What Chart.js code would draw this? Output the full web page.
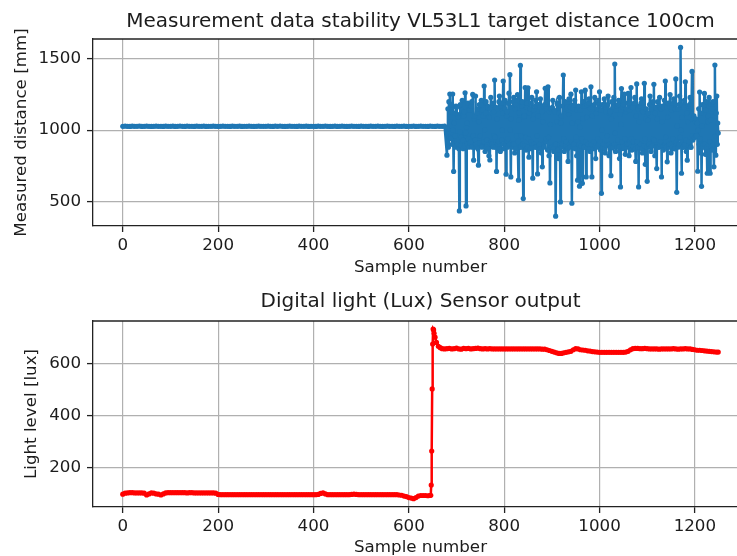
<!DOCTYPE html>
<html>
<head>
<meta charset="utf-8">
<script src="https://cdn.jsdelivr.net/npm/chart.js@4.4.0/dist/chart.umd.min.js"></script>
<style>
  html, body { margin: 0; padding: 0; background: #fff; overflow: hidden; }
  body { width: 737px; height: 556px; position: relative; }
  canvas { position: absolute; left: 0; }
  #distChart { top: 0; }
  #luxChart { top: 280px; }
</style>
</head>
<body>
<canvas id="distChart" width="760" height="280"></canvas>
<canvas id="luxChart" width="760" height="280"></canvas>
<script>
// sample numbers helper (indices only, not values)
function range(a, b, step) {
    const out = [];
    for (let v = a; v <= b; v += step) out.push(v);
    return out;
}

// ---- VL53L1 distance [mm] ----
const distFlatSamples = range(0, 675, 5);
const distFlatValues = [
    1027,1028,1027,1026,1028,1027,1027,1029,1026,1027,
    1028,1027,1026,1027,1028,1027,1027,1026,1028,1027,
    1027,1028,1026,1027,1029,1027,1026,1028,1027,1027,
    1026,1028,1027,1027,1028,1026,1027,1027,1028,1027,
    1026,1027,1028,1027,1027,1026,1028,1027,1027,1028,
    1026,1027,1027,1028,1027,1026,1027,1028,1027,1027,
    1027,1028,1027,1026,1028,1027,1029,1027,1026,1027,
    1028,1027,1027,1026,1028,1027,1027,1028,1026,1027,
    1027,1026,1028,1027,1027,1028,1027,1026,1027,1028,
    1026,1027,1028,1027,1026,1027,1028,1027,1027,1026,
    1028,1027,1027,1026,1028,1027,1027,1028,1027,1026,
    1027,1028,1027,1027,1026,1028,1027,1027,1028,1026,
    1027,1027,1028,1026,1027,1028,1027,1027,1026,1028,
    1027,1026,1028,1027,1027,1028
];
const distNoisySamples = range(680, 1249, 1);
const distNoisyValues = [
    824,1010,1150,880,1200,950,1254,1060,940,1130,1180,900,1254,1000,710,1050,1120,960,880,1170,
    1160,920,900,1110,1090,870,432,990,1180,890,950,1140,1210,930,870,1100,1130,890,1263,980,
    467,1020,1050,900,1190,940,880,1150,1140,910,920,1170,1200,880,1251,960,789,1080,1100,930,
    1240,900,880,1120,1150,870,754,1060,1180,910,960,1180,1210,890,880,1140,1100,920,1310,1000,
    850,1120,1200,880,930,1170,1160,870,820,1090,790,1150,1230,920,900,1180,1190,880,960,1130,
    1352,950,880,1160,710,1080,1150,900,920,1200,1240,870,850,1170,1190,930,1000,1120,1345,900,
    870,1150,1210,890,690,1100,1130,880,940,1190,1260,900,1390,1000,671,1080,1160,880,900,1200,
    1230,900,840,1150,1180,870,960,1210,1250,920,648,1070,1120,880,1455,960,880,1170,1200,900,
    519,1090,1100,890,1300,950,860,1160,1190,880,1298,940,810,1120,1150,870,920,1190,1230,900,
    662,1080,1140,900,880,1170,1210,880,1270,960,692,1100,1180,890,900,1160,1220,870,840,1130,
    742,1060,1170,900,880,1180,1294,920,940,1150,1200,860,1305,950,820,1130,629,1040,1150,880,
    880,1160,1210,870,850,1140,1130,900,395,900,1060,1190,1180,860,800,1120,1230,900,495,1050,
    1100,880,900,1170,1387,940,850,1150,1200,890,920,1190,1160,870,780,1110,1220,900,880,1160,
    1253,920,486,1050,1150,880,900,1180,1210,870,1282,950,820,1140,648,1060,1170,900,606,1020,
    1140,890,1270,940,626,1080,1200,880,880,1170,1281,920,671,1090,1180,880,900,1190,1220,870,
    850,1150,1305,900,671,1100,1160,870,920,1180,1230,890,800,1120,1150,880,940,1190,1210,900,
    1270,920,860,1140,556,1000,1180,880,900,1170,1220,870,840,1130,1160,890,960,1180,1240,900,
    820,1120,1130,880,680,1080,1200,890,880,1160,1230,900,1465,980,850,1140,1170,880,930,1180,
    1210,880,800,1110,601,1040,1293,920,880,1160,1180,870,1253,940,830,1130,1150,880,900,1190,
    1258,900,820,1140,1190,880,1300,940,860,1160,1160,880,920,1190,1230,870,780,1100,1325,920,
    880,1150,601,1060,1170,880,900,1190,1220,870,840,1130,1190,890,1329,940,760,1080,1150,880,
    640,1070,1120,890,900,1180,1240,880,850,1150,1180,890,940,1200,1322,930,820,1120,1160,880,
    730,1080,1200,880,880,1170,1230,900,920,1150,671,1060,1170,880,860,1160,1210,890,1345,950,
    880,1160,777,1090,1190,880,900,1170,1250,900,840,1140,1160,880,940,1190,1220,870,870,1150,
    1360,920,563,1030,1150,880,900,1180,1240,950,1582,1000,697,1090,1180,880,880,1160,1210,900,
    1340,930,850,1120,789,1060,1170,890,920,1180,1230,880,880,1150,1413,960,930,1080,1100,950,
    950,1060,1080,960,960,1050,711,1000,1150,900,1268,940,840,1120,605,1030,1180,880,900,1170,
    1258,900,830,1140,1200,880,697,1060,1100,900,1230,920,697,1070,1180,880,860,1150,1200,900,
    742,1100,1458,960,824,1120,1240,900,1050,980
];

// ---- light sensor [lux] ----
const luxSamples = [].concat(
    range(0, 640, 5),
    [644,646,647,648,649,650,651,652,653,655,658,662,666,670],
    range(675, 1245, 5),
    [1249]
);
const luxValues = [
    99,103,104,105,105,104,104,104,104,103,
    96,100,104,103,100,99,96,100,104,105,
    105,105,105,105,105,105,105,104,105,105,
    104,104,104,104,104,104,104,104,104,103,
    98,97,97,97,97,97,97,97,97,97,
    97,97,97,97,97,97,97,97,97,97,
    97,97,97,97,97,97,97,97,97,97,
    97,97,97,97,97,97,97,97,97,97,
    97,97,98,102,104,100,97,97,97,97,
    97,97,97,97,97,97,98,99,98,97,
    97,97,97,97,97,97,97,97,97,97,
    97,97,97,97,97,97,96,95,92,90,
    86,84,82,86,92,94,94,94,93,
    94,95,134,264,502,674,731,728,715,700,680,665,660,656,
    655,656,657,655,656,658,655,654,657,656,
    657,655,656,657,658,656,655,656,655,656,
    655,655,655,655,655,655,655,655,655,655,
    655,655,655,655,655,655,655,655,655,655,
    655,654,654,652,649,646,643,640,638,638,
    640,642,644,646,652,656,655,652,651,650,
    648,647,645,644,643,642,642,642,642,642,
    642,642,642,642,642,642,643,646,652,656,
    657,657,656,656,657,656,655,655,655,655,
    654,655,655,655,655,655,656,655,654,655,
    655,656,655,655,653,652,650,650,649,648,
    647,646,645,644,643,
    643
];

const xTickValues = [0, 200, 400, 600, 800, 1000, 1200];
const distTickValues = [500, 1000, 1500];
const luxTickValues = [200, 400, 600];

const FONT = 'DejaVu Sans';
const TEXT = '#1c1c1c';

// top spine (left and bottom come from the axis borders, right one lies off-canvas)
const framePlugin = {
    id: 'frame',
    afterDraw(chart) {
        const { ctx, chartArea: a } = chart;
        ctx.save();
        ctx.strokeStyle = '#222';
        ctx.lineWidth = 1.3;
        ctx.beginPath();
        ctx.moveTo(a.left, a.top);
        ctx.lineTo(a.right, a.top);
        ctx.stroke();
        ctx.restore();
    }
};

function buildChart(id, cfg) {
    const tickFont = { family: FONT, size: 16.7 };
    return new Chart(document.getElementById(id), {
        type: 'line',
        data: {
            datasets: [{
                data: cfg.samples.map((s, i) => ({ x: s, y: cfg.values[i] })),
                borderColor: cfg.color,
                backgroundColor: cfg.color,
                borderWidth: 2.5,
                pointRadius: 2.6,
                pointBorderWidth: 0,
                pointBackgroundColor: cfg.color,
                tension: 0,
                fill: false
            }]
        },
        options: {
            responsive: false,
            animation: false,
            events: [],
            layout: { padding: { left: 0, right: 12, top: 0, bottom: 0 } },
            plugins: {
                legend: { display: false },
                tooltip: { enabled: false },
                title: {
                    display: true,
                    text: cfg.title,
                    fullSize: false,
                    color: TEXT,
                    font: { family: FONT, size: 20, weight: 'normal' },
                    padding: cfg.titlePadding
                }
            },
            scales: {
                x: {
                    type: 'linear',
                    min: -62.45,
                    max: 1311.45,
                    afterBuildTicks: s => { s.ticks = xTickValues.map(v => ({ value: v })); },
                    afterFit: s => { s.height = cfg.xAxisHeight; },
                    grid: { color: '#b0b0b0', lineWidth: 1.2, tickColor: '#222', tickLength: 6, tickWidth: 1.3 },
                    border: { color: '#222', width: 1.3 },
                    ticks: { color: TEXT, font: tickFont, padding: 4, maxRotation: 0, autoSkip: false, callback: v => String(v) },
                    title: { display: true, text: 'Sample number', color: TEXT, font: tickFont, padding: { top: 0, bottom: 2 } }
                },
                y: {
                    type: 'linear',
                    min: cfg.yMin,
                    max: cfg.yMax,
                    afterBuildTicks: s => { s.ticks = cfg.yTicks.map(v => ({ value: v })); },
                    afterFit: s => { s.width = 93; },
                    grid: { color: '#b0b0b0', lineWidth: 1.2, tickColor: '#222', tickLength: 6, tickWidth: 1.3 },
                    border: { color: '#222', width: 1.3 },
                    ticks: { color: TEXT, font: tickFont, padding: 6, autoSkip: false, callback: v => String(v) },
                    title: { display: true, text: cfg.yLabel, color: TEXT, font: tickFont, padding: { top: cfg.yTitlePad, bottom: 0 } }
                }
            }
        },
        plugins: [framePlugin]
    });
}

document.addEventListener('DOMContentLoaded', function() {
    buildChart('distChart', {
        title: 'Measurement data stability VL53L1 target distance 100cm',
        samples: distFlatSamples.concat(distNoisySamples),
        values: distFlatValues.concat(distNoisyValues),
        color: '#1f77b4',
        yMin: 326,
        yMax: 1641,
        yTicks: distTickValues,
        yLabel: 'Measured distance [mm]',
        yTitlePad: 12,
        titlePadding: { top: 10, bottom: 5 },
        xAxisHeight: 54
    });

    buildChart('luxChart', {
        title: 'Digital light (Lux) Sensor output',
        samples: luxSamples,
        values: luxValues,
        color: '#ff0000',
        yMin: 50,
        yMax: 762,
        yTicks: luxTickValues,
        yLabel: 'Light level [lux]',
        yTitlePad: 22,
        titlePadding: { top: 10, bottom: 7 },
        xAxisHeight: 53
    });
});
</script>
</body>
</html>
